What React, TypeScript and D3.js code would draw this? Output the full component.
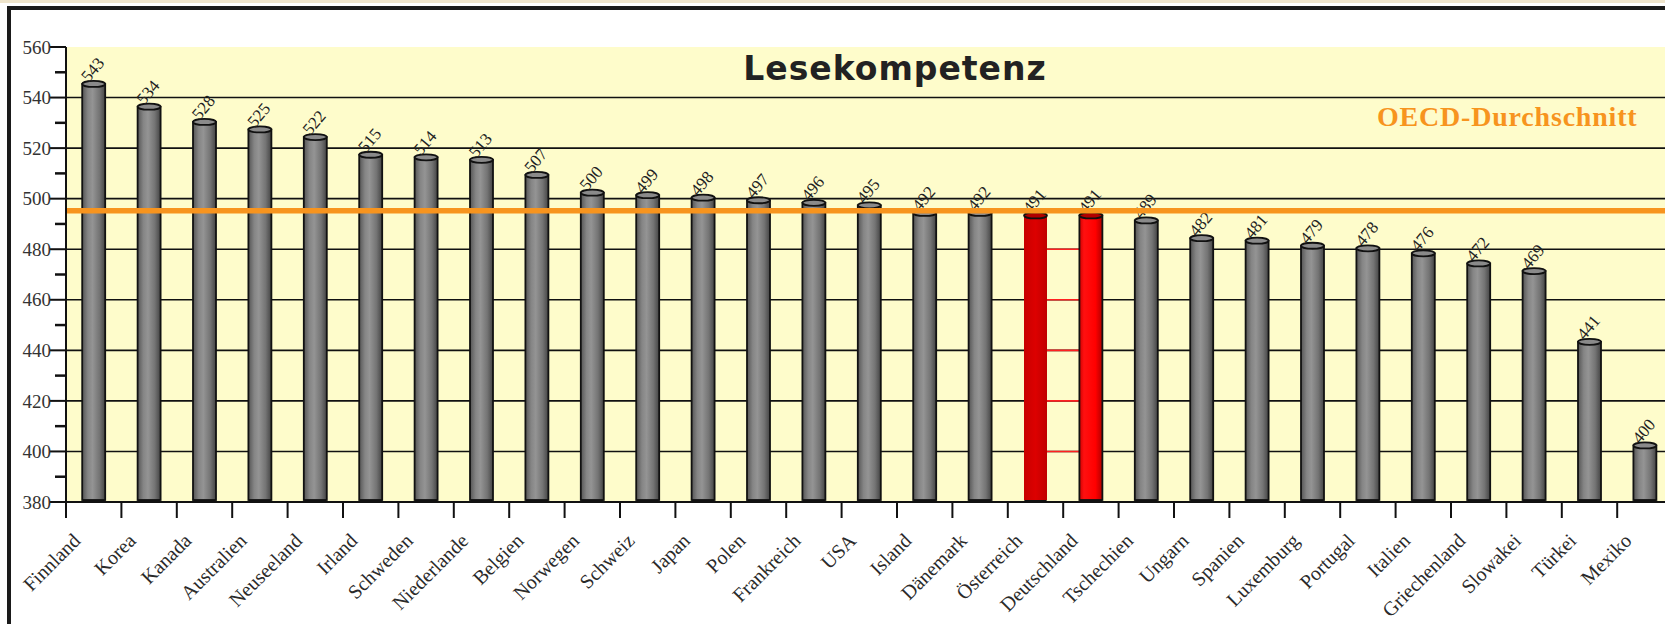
import { useEffect, useRef } from 'react';
import * as d3 from 'd3';

const countries = [
  'Finnland', 'Korea', 'Kanada', 'Australien', 'Neuseeland', 'Irland', 'Schweden',
  'Niederlande', 'Belgien', 'Norwegen', 'Schweiz', 'Japan', 'Polen', 'Frankreich',
  'USA', 'Island', 'Dänemark', 'Österreich', 'Deutschland', 'Tschechien', 'Ungarn',
  'Spanien', 'Luxemburg', 'Portugal', 'Italien', 'Griechenland', 'Slowakei', 'Türkei', 'Mexiko',
];
const scores = [
  543, 534, 528, 525, 522, 515, 514, 513, 507, 500, 499, 498, 497, 496,
  495, 492, 492, 491, 491, 489, 482, 481, 479, 478, 476, 472, 469, 441, 400,
];
const highlighted = ['Österreich', 'Deutschland'];
const oecdAverage = 494;
const yTicks = [380, 400, 420, 440, 460, 480, 500, 520, 540, 560];
const yMinorTicks = [390, 410, 430, 450, 470, 490, 510, 530, 550];
const gridValues = [400, 420, 440, 460, 480, 500, 520, 540];

function App() {
  const svgRef = useRef<SVGSVGElement>(null);

  useEffect(() => {
    if (!svgRef.current) return;
    const W = 1665;
    const H = 624;
    const svg = d3.select(svgRef.current);
    svg.selectAll('*').remove();
    svg.attr('width', W).attr('height', H);

    const left = 66;
    const step = 55.4;
    const x = d3.scaleBand<string>()
      .domain(countries)
      .range([left, left + step * countries.length])
      .paddingInner(0.585)
      .paddingOuter(0.2925);
    const y = d3.scaleLinear().domain([380, 560]).range([502, 47]);
    const lift = 6; // 3D cylinder offset

    const defs = svg.append('defs');
    const mkGrad = (id: string, stops: [number, string][]) => {
      const g = defs.append('linearGradient').attr('id', id).attr('x1', '0%').attr('x2', '100%');
      stops.forEach(([o, c]) => g.append('stop').attr('offset', `${o}%`).attr('stop-color', c));
    };
    mkGrad('barGray', [[0, '#555'], [25, '#858585'], [45, '#949494'], [75, '#747474'], [100, '#444']]);
    mkGrad('barRed1', [[0, '#c80000'], [50, '#dc0000'], [100, '#c00000']]);
    mkGrad('barRed2', [[0, '#d00000'], [20, '#ff1010'], [70, '#ff0000'], [100, '#b00000']]);

    svg.append('rect').attr('width', W).attr('height', H).attr('fill', '#fff');
    svg.append('rect').attr('x', 0).attr('y', 0).attr('width', W).attr('height', 3).attr('fill', '#efe5cc');

    // frame
    svg.append('rect').attr('x', 7).attr('y', 6).attr('width', W).attr('height', 4).attr('fill', '#1a1a1a');
    svg.append('rect').attr('x', 7).attr('y', 6).attr('width', 4).attr('height', H).attr('fill', '#1a1a1a');

    // plot background
    svg.append('rect')
      .attr('x', left + 1).attr('y', y(560))
      .attr('width', W - left).attr('height', y(380) - y(560))
      .attr('fill', '#fefccb');

    // grid
    svg.append('g').selectAll('line').data(gridValues).join('line')
      .attr('x1', left).attr('x2', W)
      .attr('y1', (d) => y(d)).attr('y2', (d) => y(d))
      .attr('stroke', '#111').attr('stroke-width', 1.6);

    // red grid segments between the highlighted bars
    const r0 = (x(highlighted[0]) ?? 0) + x.bandwidth();
    const r1 = x(highlighted[1]) ?? 0;
    svg.append('g').selectAll('line').data(gridValues.filter((v) => v < 491)).join('line')
      .attr('x1', r0).attr('x2', r1)
      .attr('y1', (d) => y(d)).attr('y2', (d) => y(d))
      .attr('stroke', '#ff2020').attr('stroke-width', 1.6);

    // title
    svg.append('text')
      .attr('x', 895).attr('y', 80)
      .attr('text-anchor', 'middle')
      .attr('font-family', 'DejaVu Sans')
      .attr('font-weight', 'bold')
      .attr('font-size', 33)
      .attr('letter-spacing', 1)
      .attr('fill', '#222')
      .text('Lesekompetenz');

    svg.append('text')
      .attr('x', 1377).attr('y', 126)
      .attr('font-family', 'Liberation Serif')
      .attr('font-weight', 'bold')
      .attr('font-size', 28)
      .attr('letter-spacing', 0.8)
      .attr('fill', '#f7941e')
      .text('OECD-Durchschnitt');

    // bars
    const bars = svg.append('g');
    const base = y(380);
    countries.forEach((c, i) => {
      const bx = x(c) ?? 0;
      const bw = x.bandwidth();
      const top = y(scores[i]) - lift;
      const hi = highlighted.indexOf(c);
      const fill = hi === 0 ? 'url(#barRed1)' : hi === 1 ? 'url(#barRed2)' : 'url(#barGray)';
      const g = bars.append('g');
      g.append('ellipse')
        .attr('cx', bx + bw / 2).attr('cy', base - 2)
        .attr('rx', bw / 2).attr('ry', 3)
        .attr('fill', '#111');
      g.append('rect')
        .attr('x', bx).attr('y', top)
        .attr('width', bw).attr('height', base - 2 - top)
        .attr('fill', fill)
        .attr('stroke', hi === 0 ? 'none' : '#111')
        .attr('stroke-width', 1.8);
      g.append('ellipse')
        .attr('cx', bx + bw / 2).attr('cy', top)
        .attr('rx', bw / 2).attr('ry', 3)
        .attr('fill', hi >= 0 ? '#b00000' : '#8a8a8a')
        .attr('stroke', '#111')
        .attr('stroke-width', 1.8);

      g.append('text')
        .attr('transform', `translate(${bx + bw / 2 - 5},${top - 1}) rotate(-50)`)
        .attr('font-family', 'Liberation Serif')
        .attr('font-size', 17)
        .attr('fill', '#222')
        .text(scores[i]);
    });

    // OECD line
    svg.append('line')
      .attr('x1', left).attr('x2', W)
      .attr('y1', y(oecdAverage) - 3).attr('y2', y(oecdAverage) - 3)
      .attr('stroke', '#f7941e').attr('stroke-width', 5.5);

    // y axis
    svg.append('line')
      .attr('x1', left).attr('x2', left)
      .attr('y1', y(560)).attr('y2', base)
      .attr('stroke', '#111').attr('stroke-width', 2);
    svg.append('g').selectAll('line').data(yTicks).join('line')
      .attr('x1', left - 16).attr('x2', left)
      .attr('y1', (d) => y(d)).attr('y2', (d) => y(d))
      .attr('stroke', '#111').attr('stroke-width', 2);
    svg.append('g').selectAll('line').data(yMinorTicks).join('line')
      .attr('x1', left - 11).attr('x2', left)
      .attr('y1', (d) => y(d)).attr('y2', (d) => y(d))
      .attr('stroke', '#111').attr('stroke-width', 2.5);
    svg.append('g').selectAll('text').data(yTicks).join('text')
      .attr('x', left - 15).attr('y', (d) => y(d))
      .attr('dy', '0.35em')
      .attr('text-anchor', 'end')
      .attr('font-family', 'Liberation Serif')
      .attr('font-size', 19)
      .attr('fill', '#333')
      .text((d) => d);

    // x axis
    svg.append('line')
      .attr('x1', left).attr('x2', W)
      .attr('y1', base).attr('y2', base)
      .attr('stroke', '#111').attr('stroke-width', 2);
    svg.append('g').selectAll('line').data(countries).join('line')
      .attr('x1', (d) => (x(d) ?? 0) - x.step() * x.paddingInner() / 2)
      .attr('x2', (d) => (x(d) ?? 0) - x.step() * x.paddingInner() / 2)
      .attr('y1', base).attr('y2', base + 16)
      .attr('stroke', '#111').attr('stroke-width', 2);
    svg.append('g').selectAll('text').data(countries).join('text')
      .attr('transform', (d) => `translate(${(x(d) ?? 0) + x.bandwidth() / 2 - 12},${base + 40}) rotate(-45)`)
      .attr('text-anchor', 'end')
      .attr('font-family', 'Liberation Serif')
      .attr('font-size', 20)
      .attr('fill', '#2a2a2a')
      .text((d) => d);
  }, []);

  return (
    <div style={{ position: 'absolute', left: 0, top: 0 }}>
      <svg ref={svgRef} style={{ display: 'block' }}></svg>
    </div>
  );
}

export default App;
